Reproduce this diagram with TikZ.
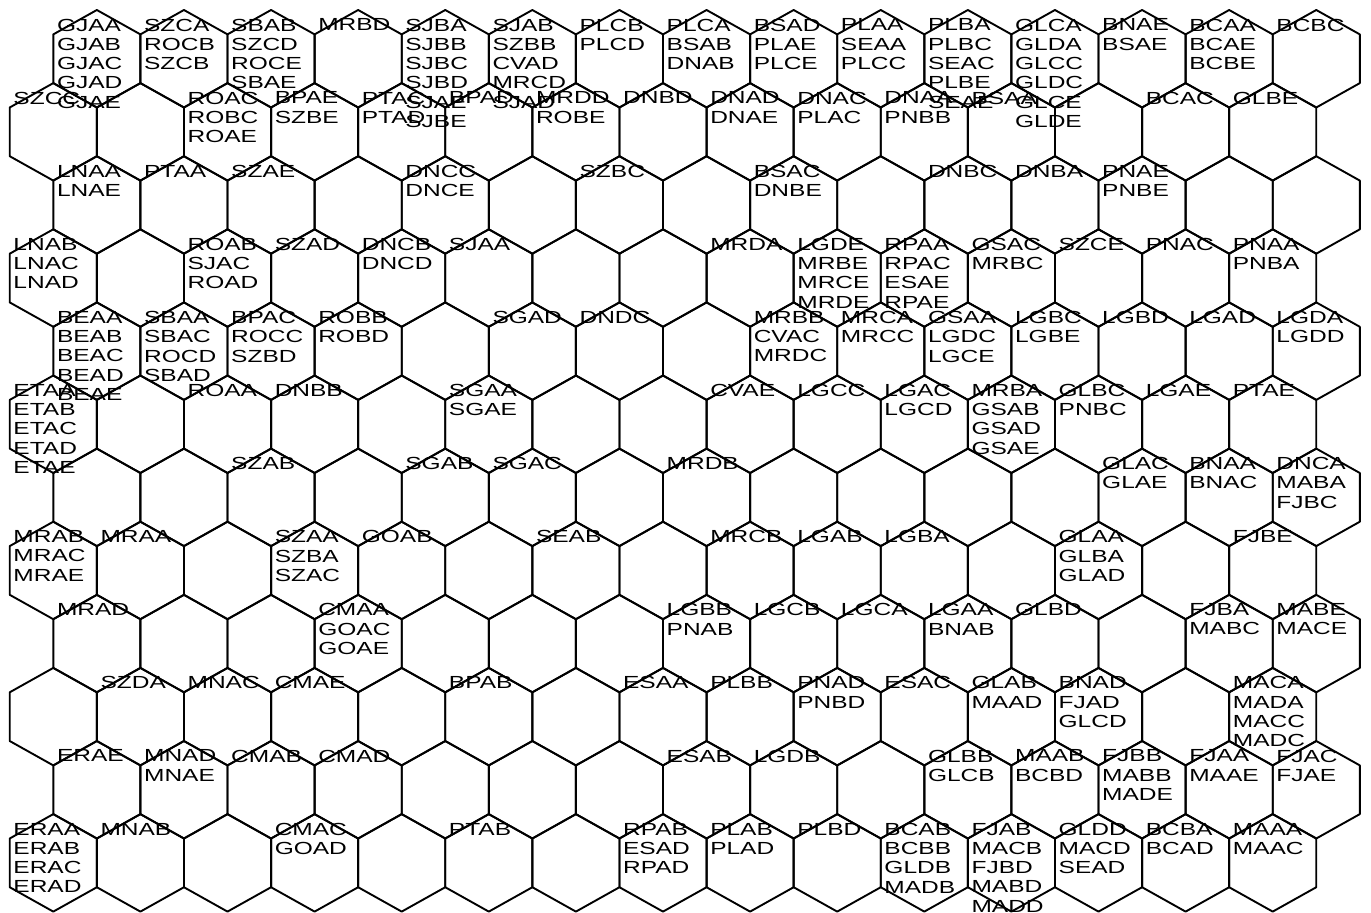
\documentclass[tikz,border=0pt]{standalone}
\usepackage{fontspec}
\newfontfamily\hexfont[FakeStretch=1.4]{Liberation Sans}
\usetikzlibrary{positioning}

\tikzset{
    cell/.style={draw=black, line width=1.9pt, line join=round},
    code/.style={anchor=north west, inner sep=0pt, align=left, font=\hexfont\fontsize{17.5}{19.3}\selectfont}
}

\begin{document}
\begin{tikzpicture}[x=1pt, y=-1pt]

\useasboundingbox (0,0) rectangle (1371,913);

% Hex grid, 12 rows of 15, odd rows shifted left
\foreach \r in {0,...,11} {
  \foreach \c in {0,...,14} {
    \pgfmathsetmacro{\cx}{(mod(\r,2)==0 ? 96.85 : 53.3) + 87.1*\c}
    \pgfmathsetmacro{\cy}{58.75 + 73.1*\r}
    \draw[cell] (\cx,\cy) ++(0,-48.75) -- ++(43.55,24.375) -- ++(0,48.75)
      -- ++(-43.55,24.375) -- ++(-43.55,-24.375) -- ++(0,-48.75) -- cycle;
    \coordinate (h-\r-\c) at (\cx-40.05, \cy-40.1);
  }
}

% Row 0
\node[code] (gjaa) at (h-0-0) {GJAA\\GJAB\\GJAC\\GJAD\\GJAE};
\node[code] (szca) at (h-0-1) {SZCA\\ROCB\\SZCB};
\node[code] (sbab) at (h-0-2) {SBAB\\SZCD\\ROCE\\SBAE};
\node[code] (mrbd) at (h-0-3) {MRBD};
\node[code] (sjba) at (h-0-4) {SJBA\\SJBB\\SJBC\\SJBD\\SJAE\\SJBE};
\node[code] (sjab) at (h-0-5) {SJAB\\SZBB\\CVAD\\MRCD\\SJAD};
\node[code] (plcb) at (h-0-6) {PLCB\\PLCD};
\node[code] (plca) at (h-0-7) {PLCA\\BSAB\\DNAB};
\node[code] (bsad) at (h-0-8) {BSAD\\PLAE\\PLCE};
\node[code] (plaa) at (h-0-9) {PLAA\\SEAA\\PLCC};
\node[code] (plba) at (h-0-10) {PLBA\\PLBC\\SEAC\\PLBE\\SEAE};
\node[code] (glca) at (h-0-11) {GLCA\\GLDA\\GLCC\\GLDC\\GLCE\\GLDE};
\node[code] (bnae) at (h-0-12) {BNAE\\BSAE};
\node[code] (bcaa) at (h-0-13) {BCAA\\BCAE\\BCBE};
\node[code] (bcbc) at (h-0-14) {BCBC};

% Row 1
\node[code] (szcc) at (h-1-0) {SZCC};
\node[code] (roac) at (h-1-2) {ROAC\\ROBC\\ROAE};
\node[code] (bpae) at (h-1-3) {BPAE\\SZBE};
\node[code] (ptac) at (h-1-4) {PTAC\\PTAD};
\node[code] (bpad) at (h-1-5) {BPAD};
\node[code] (mrdd) at (h-1-6) {MRDD\\ROBE};
\node[code] (dnbd) at (h-1-7) {DNBD};
\node[code] (dnad) at (h-1-8) {DNAD\\DNAE};
\node[code] (dnac) at (h-1-9) {DNAC\\PLAC};
\node[code] (dnaa) at (h-1-10) {DNAA\\PNBB};
\node[code] (bsaa) at (h-1-11) {BSAA};
\node[code] (bcac) at (h-1-13) {BCAC};
\node[code] (glbe) at (h-1-14) {GLBE};

% Row 2
\node[code] (lnaa) at (h-2-0) {LNAA\\LNAE};
\node[code] (ptaa) at (h-2-1) {PTAA};
\node[code] (szae) at (h-2-2) {SZAE};
\node[code] (dncc) at (h-2-4) {DNCC\\DNCE};
\node[code] (szbc) at (h-2-6) {SZBC};
\node[code] (bsac) at (h-2-8) {BSAC\\DNBE};
\node[code] (dnbc) at (h-2-10) {DNBC};
\node[code] (dnba) at (h-2-11) {DNBA};
\node[code] (pnae) at (h-2-12) {PNAE\\PNBE};

% Row 3
\node[code] (lnab) at (h-3-0) {LNAB\\LNAC\\LNAD};
\node[code] (roab) at (h-3-2) {ROAB\\SJAC\\ROAD};
\node[code] (szad) at (h-3-3) {SZAD};
\node[code] (dncb) at (h-3-4) {DNCB\\DNCD};
\node[code] (sjaa) at (h-3-5) {SJAA};
\node[code] (mrda) at (h-3-8) {MRDA};
\node[code] (lgde) at (h-3-9) {LGDE\\MRBE\\MRCE\\MRDE};
\node[code] (rpaa) at (h-3-10) {RPAA\\RPAC\\ESAE\\RPAE};
\node[code] (gsac) at (h-3-11) {GSAC\\MRBC};
\node[code] (szce) at (h-3-12) {SZCE};
\node[code] (pnac) at (h-3-13) {PNAC};
\node[code] (pnaa) at (h-3-14) {PNAA\\PNBA};

% Row 4
\node[code] (beaa) at (h-4-0) {BEAA\\BEAB\\BEAC\\BEAD\\BEAE};
\node[code] (sbaa) at (h-4-1) {SBAA\\SBAC\\ROCD\\SBAD};
\node[code] (bpac) at (h-4-2) {BPAC\\ROCC\\SZBD};
\node[code] (robb) at (h-4-3) {ROBB\\ROBD};
\node[code] (sgad) at (h-4-5) {SGAD};
\node[code] (dndc) at (h-4-6) {DNDC};
\node[code] (mrbb) at (h-4-8) {MRBB\\CVAC\\MRDC};
\node[code] (mrca) at (h-4-9) {MRCA\\MRCC};
\node[code] (gsaa) at (h-4-10) {GSAA\\LGDC\\LGCE};
\node[code] (lgbc) at (h-4-11) {LGBC\\LGBE};
\node[code] (lgbd) at (h-4-12) {LGBD};
\node[code] (lgad) at (h-4-13) {LGAD};
\node[code] (lgda) at (h-4-14) {LGDA\\LGDD};

% Row 5
\node[code] (etaa) at (h-5-0) {ETAA\\ETAB\\ETAC\\ETAD\\ETAE};
\node[code] (roaa) at (h-5-2) {ROAA};
\node[code] (dnbb) at (h-5-3) {DNBB};
\node[code] (sgaa) at (h-5-5) {SGAA\\SGAE};
\node[code] (cvae) at (h-5-8) {CVAE};
\node[code] (lgcc) at (h-5-9) {LGCC};
\node[code] (lgac) at (h-5-10) {LGAC\\LGCD};
\node[code] (mrba) at (h-5-11) {MRBA\\GSAB\\GSAD\\GSAE};
\node[code] (glbc) at (h-5-12) {GLBC\\PNBC};
\node[code] (lgae) at (h-5-13) {LGAE};
\node[code] (ptae) at (h-5-14) {PTAE};

% Row 6
\node[code] (szab) at (h-6-2) {SZAB};
\node[code] (sgab) at (h-6-4) {SGAB};
\node[code] (sgac) at (h-6-5) {SGAC};
\node[code] (mrdb) at (h-6-7) {MRDB};
\node[code] (glac) at (h-6-12) {GLAC\\GLAE};
\node[code] (bnaa) at (h-6-13) {BNAA\\BNAC};
\node[code] (dnca) at (h-6-14) {DNCA\\MABA\\FJBC};

% Row 7
\node[code] (mrab) at (h-7-0) {MRAB\\MRAC\\MRAE};
\node[code] (mraa) at (h-7-1) {MRAA};
\node[code] (szaa) at (h-7-3) {SZAA\\SZBA\\SZAC};
\node[code] (goab) at (h-7-4) {GOAB};
\node[code] (seab) at (h-7-6) {SEAB};
\node[code] (mrcb) at (h-7-8) {MRCB};
\node[code] (lgab) at (h-7-9) {LGAB};
\node[code] (lgba) at (h-7-10) {LGBA};
\node[code] (glaa) at (h-7-12) {GLAA\\GLBA\\GLAD};
\node[code] (fjbe) at (h-7-14) {FJBE};

% Row 8
\node[code] (mrad) at (h-8-0) {MRAD};
\node[code] (cmaa) at (h-8-3) {CMAA\\GOAC\\GOAE};
\node[code] (lgbb) at (h-8-7) {LGBB\\PNAB};
\node[code] (lgcb) at (h-8-8) {LGCB};
\node[code] (lgca) at (h-8-9) {LGCA};
\node[code] (lgaa) at (h-8-10) {LGAA\\BNAB};
\node[code] (glbd) at (h-8-11) {GLBD};
\node[code] (fjba) at (h-8-13) {FJBA\\MABC};
\node[code] (mabe) at (h-8-14) {MABE\\MACE};

% Row 9
\node[code] (szda) at (h-9-1) {SZDA};
\node[code] (mnac) at (h-9-2) {MNAC};
\node[code] (cmae) at (h-9-3) {CMAE};
\node[code] (bpab) at (h-9-5) {BPAB};
\node[code] (esaa) at (h-9-7) {ESAA};
\node[code] (plbb) at (h-9-8) {PLBB};
\node[code] (pnad) at (h-9-9) {PNAD\\PNBD};
\node[code] (esac) at (h-9-10) {ESAC};
\node[code] (glab) at (h-9-11) {GLAB\\MAAD};
\node[code] (bnad) at (h-9-12) {BNAD\\FJAD\\GLCD};
\node[code] (maca) at (h-9-14) {MACA\\MADA\\MACC\\MADC};

% Row 10
\node[code] (erae) at (h-10-0) {ERAE};
\node[code] (mnad) at (h-10-1) {MNAD\\MNAE};
\node[code] (cmab) at (h-10-2) {CMAB};
\node[code] (cmad) at (h-10-3) {CMAD};
\node[code] (esab) at (h-10-7) {ESAB};
\node[code] (lgdb) at (h-10-8) {LGDB};
\node[code] (glbb) at (h-10-10) {GLBB\\GLCB};
\node[code] (maab) at (h-10-11) {MAAB\\BCBD};
\node[code] (fjbb) at (h-10-12) {FJBB\\MABB\\MADE};
\node[code] (fjaa) at (h-10-13) {FJAA\\MAAE};
\node[code] (fjac) at (h-10-14) {FJAC\\FJAE};

% Row 11
\node[code] (eraa) at (h-11-0) {ERAA\\ERAB\\ERAC\\ERAD};
\node[code] (mnab) at (h-11-1) {MNAB};
\node[code] (cmac) at (h-11-3) {CMAC\\GOAD};
\node[code] (ptab) at (h-11-5) {PTAB};
\node[code] (rpab) at (h-11-7) {RPAB\\ESAD\\RPAD};
\node[code] (plab) at (h-11-8) {PLAB\\PLAD};
\node[code] (plbd) at (h-11-9) {PLBD};
\node[code] (bcab) at (h-11-10) {BCAB\\BCBB\\GLDB\\MADB};
\node[code] (fjab) at (h-11-11) {FJAB\\MACB\\FJBD\\MABD\\MADD};
\node[code] (gldd) at (h-11-12) {GLDD\\MACD\\SEAD};
\node[code] (bcba) at (h-11-13) {BCBA\\BCAD};
\node[code] (maaa) at (h-11-14) {MAAA\\MAAC};

\end{tikzpicture}
\end{document}
